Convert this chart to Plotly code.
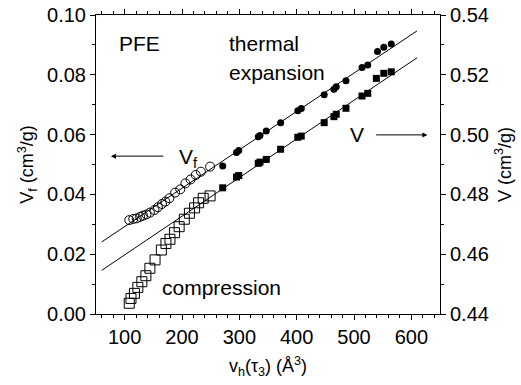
import plotly.graph_objects as go

# Open circles: free volume Vf from compression (left axis)
comp_vf_x = [108, 115, 121, 127, 132, 138, 144, 152, 158, 165, 171, 178, 188, 197, 206, 215, 224, 233, 249]
comp_vf_y = [0.0314, 0.0318, 0.0320, 0.0325, 0.0329, 0.0333, 0.0339, 0.0348, 0.0357, 0.0368, 0.0376, 0.0387,
             0.0406, 0.0417, 0.0437, 0.0450, 0.0465, 0.0476, 0.0493]

# Open squares: specific volume V from compression (right axis)
comp_v_x = [108, 111, 117, 123, 130, 137, 144, 153, 164, 172, 179, 187, 195, 204, 213, 222, 229, 237, 249]
comp_v_y = [0.4436, 0.4452, 0.4469, 0.4489, 0.4508, 0.4528, 0.4553, 0.4581, 0.4614, 0.4636, 0.4650,
            0.4672, 0.4692, 0.4717, 0.4737, 0.4755, 0.4772, 0.4787, 0.4795]

# Filled circles: Vf from thermal expansion (left axis)
therm_vf_x = [271, 295, 299, 333, 336, 347, 372, 402, 408, 448, 465, 469, 486, 514, 524, 541, 552, 565]
therm_vf_y = [0.0495, 0.0540, 0.0547, 0.0593, 0.0597, 0.0612, 0.0640, 0.0680, 0.0687, 0.0733, 0.0752, 0.0760,
              0.0780, 0.0824, 0.0833, 0.0878, 0.0892, 0.0903]

# Filled squares: V from thermal expansion (right axis)
therm_v_x = [271, 295, 299, 333, 336, 347, 372, 402, 408, 448, 465, 469, 486, 514, 524, 539, 552, 565]
therm_v_y = [0.4822, 0.4858, 0.4863, 0.4904, 0.4908, 0.4917, 0.4951, 0.4991, 0.4995, 0.5040, 0.5060, 0.5068,
             0.5088, 0.5129, 0.5138, 0.5188, 0.5205, 0.5210]

# Linear fits
fit_x = [60, 610]
fit_vf = [0.0241, 0.0947]
fit_v = [0.4546, 0.5257]

x_ticks = [100, 200, 300, 400, 500, 600]

FONT = "Liberation Sans, Arial, sans-serif"
fs_tick = 20
fs_title = 18

fig = go.Figure()
fig.add_trace(go.Scatter(x=fit_x, y=fit_vf, mode="lines", line=dict(color="black", width=1), showlegend=False))
fig.add_trace(go.Scatter(x=fit_x, y=fit_v, mode="lines", line=dict(color="black", width=1), showlegend=False,
                         yaxis="y2"))
fig.add_trace(go.Scatter(x=comp_vf_x, y=comp_vf_y, mode="markers", showlegend=False,
                         marker=dict(symbol="circle-open", size=9, color="black", line=dict(width=1))))
fig.add_trace(go.Scatter(x=comp_v_x, y=comp_v_y, mode="markers", showlegend=False, yaxis="y2",
                         marker=dict(symbol="square-open", size=10, color="black", line=dict(width=1))))
fig.add_trace(go.Scatter(x=therm_vf_x, y=therm_vf_y, mode="markers", showlegend=False,
                         marker=dict(symbol="circle", size=7, color="black")))
fig.add_trace(go.Scatter(x=therm_v_x, y=therm_v_y, mode="markers", showlegend=False, yaxis="y2",
                         marker=dict(symbol="square", size=7, color="black")))

axis_common = dict(showline=True, linecolor="black", linewidth=1, ticks="outside", ticklen=5,
                   tickcolor="black", showgrid=False, zeroline=False, automargin=False,
                   tickfont=dict(family=FONT, size=fs_tick, color="black"))

fig.update_layout(
    width=521, height=385,
    margin=dict(l=96, r=81, t=15, b=71),
    paper_bgcolor="white", plot_bgcolor="white",
    font=dict(family=FONT, size=fs_title, color="black"),
    xaxis=dict(range=[50, 650], tickvals=x_ticks, mirror="ticks",
               minor=dict(dtick=20, tick0=0, ticks="outside", ticklen=3, tickcolor="black"),
               title=dict(text="v<sub>h</sub>(τ<sub>3</sub>) (Å<sup>3</sup>)", font=dict(size=fs_title), standoff=12),
               **axis_common),
    yaxis=dict(range=[0, 0.1], dtick=0.02, tickformat=".2f",
               minor=dict(dtick=0.01, ticks="outside", ticklen=3, tickcolor="black"),
               title=dict(text="V<sub>f</sub> (cm<sup>3</sup>/g)", font=dict(size=fs_title), standoff=8),
               **axis_common),
    yaxis2=dict(range=[0.44, 0.54], dtick=0.02, tickformat=".2f", overlaying="y", side="right",
                minor=dict(dtick=0.01, ticks="outside", ticklen=3, tickcolor="black"),
                title=dict(text="V (cm<sup>3</sup>/g)", font=dict(size=fs_title), standoff=10),
                **axis_common),
)

ann_font = dict(family=FONT, size=21, color="black")
fig.add_annotation(x=87, y=0.0906, text="PFE", showarrow=False, xanchor="left", font=ann_font)
fig.add_annotation(x=278, y=0.0906, text="thermal", showarrow=False, xanchor="left", font=ann_font)
fig.add_annotation(x=278, y=0.0809, text="expansion", showarrow=False, xanchor="left", font=ann_font)
fig.add_annotation(x=161, y=0.0090, text="compression", showarrow=False, xanchor="left", font=ann_font)
fig.add_annotation(x=192, y=0.0522, text="V<sub>f</sub>", showarrow=False, xanchor="left", font=ann_font)
fig.add_annotation(x=490, y=0.0599, text="V", showarrow=False, xanchor="left", font=ann_font)
# arrows
fig.add_annotation(x=76, y=0.0528, ax=170, ay=0.0528, axref="x", ayref="y", text="", showarrow=True,
                   arrowhead=2, arrowsize=1, arrowwidth=1, arrowcolor="black")
fig.add_annotation(x=628, y=0.0599, ax=536, ay=0.0599, axref="x", ayref="y", text="", showarrow=True,
                   arrowhead=2, arrowsize=1, arrowwidth=1, arrowcolor="black")

fig.write_html("out.html")
